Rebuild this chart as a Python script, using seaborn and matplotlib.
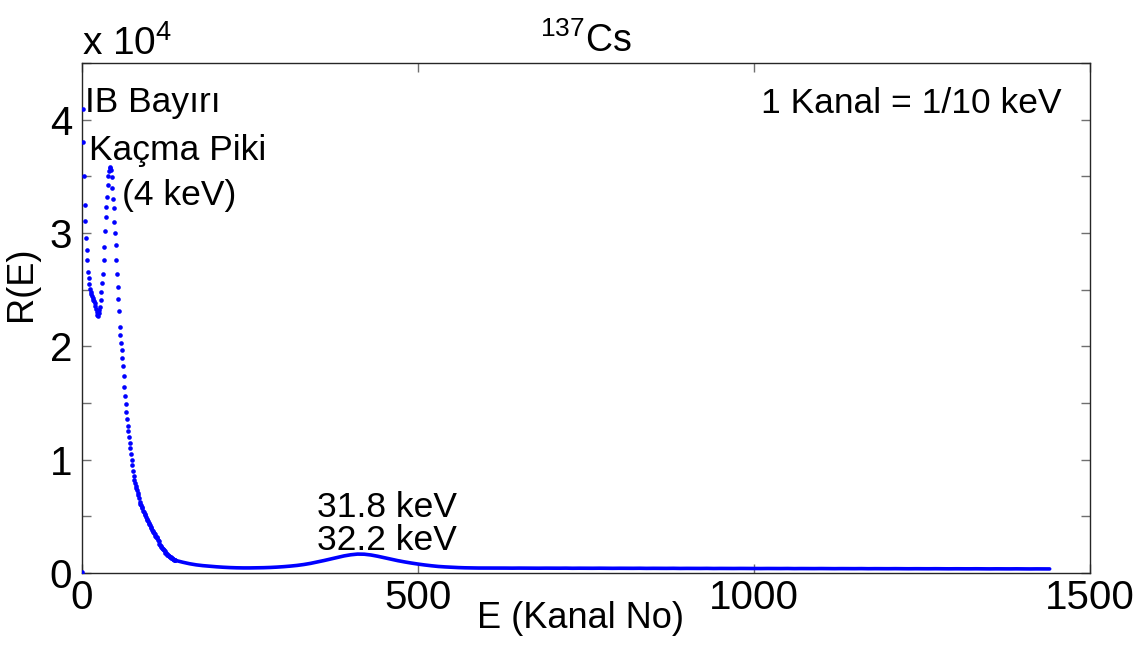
import matplotlib
matplotlib.use("Agg")
import matplotlib.pyplot as plt
import seaborn as sns
from matplotlib.ticker import FixedLocator, FuncFormatter

# ---------------- data ----------------
# channels 0..139 read one by one (R in counts)
early_channels = list(range(0, 140))
early_R = [
    100, 40900, 38000, 35000, 32500, 31100, 29600, 28500, 27600, 26600,
    26000, 25500, 25100, 24800, 24600, 24400, 24300, 24100, 24000, 23800,
    23600, 23300, 23000, 22800, 22700, 22900, 23200, 23500, 24100, 24800,
    25600, 26400, 27600, 28800, 30200, 31400, 32300, 33200, 34200, 35000,
    35500, 35700, 35800, 35600, 34900, 34000, 33000, 32200, 31000, 30000,
    28900, 27600, 26400, 25200, 24200, 23100, 21700, 21000, 20300, 19700,
    19000, 18300, 17400, 16400, 15600, 14900, 14200, 13600, 13000, 12500,
    12000, 11500, 11000, 10500, 10000, 9500, 9000, 8600, 8200, 7900,
    7700, 7500, 7300, 7100, 6900, 6600, 6300, 6100, 6000, 5800,
    5700, 5500, 5400, 5200, 5100, 4900, 4800, 4700, 4600, 4400,
    4300, 4200, 4100, 4000, 3800, 3700, 3600, 3500, 3400, 3300,
    3200, 3200, 3100, 2900, 2800, 2600, 2500, 2400, 2300, 2200,
    2100, 2100, 2000, 1900, 1800, 1800, 1700, 1600, 1600, 1500,
    1500, 1450, 1400, 1350, 1300, 1260, 1220, 1190, 1160, 1130,
]
# channels 140..1440 read every 10 channels
tail_channels = list(range(140, 1441, 10))
tail_R = [
    1100, 950, 820, 720, 650, 600, 550, 510, 480, 460,
    450, 450, 460, 470, 490, 520, 560, 610, 670, 750,
    850, 970, 1100, 1240, 1380, 1510, 1610, 1670, 1660, 1590,
    1480, 1350, 1220, 1090, 980, 880, 790, 710, 640, 580,
    540, 510, 480, 460, 450,
    440, 440, 435, 440, 435, 430, 435, 430, 430, 425,
    430, 425, 425, 430, 420, 425, 420, 420, 425, 420,
    415, 420, 415, 415, 420, 410, 415, 410, 410, 415,
    405, 410, 405, 405, 410, 400, 405, 400, 400, 405,
    400, 400, 395, 400, 395, 395, 400, 390, 395, 390,
    390, 395, 390, 385, 390, 385, 385, 390, 380, 385,
    380, 380, 385, 380, 375, 380, 375, 375, 380, 375,
    370, 375, 370, 370, 375, 370, 365, 370, 365, 365,
    370, 365, 360, 365, 360, 360,
]
assert len(early_channels) == len(early_R)
assert len(tail_channels) == len(tail_R)

x_ticks = [0, 500, 1000, 1500]
y_ticks = [0, 10000, 20000, 30000, 40000]
y_minor = [5000, 15000, 25000, 35000, 45000]

title_text = r"$^{\mathrm{137}}$Cs"
x_label = "E (Kanal No)"
y_label = "R(E)"
multiplier_text = r"x 10$^{\mathrm{4}}$"
annotations = [
    ("IB Bayırı", 4.5, 40700, "left"),
    ("Kaçma Piki", 11, 36450, "left"),
    ("(4 keV)", 60, 32500, "left"),
    ("1 Kanal = 1/10 keV", 1458, 40600, "right"),
    ("31.8 keV", 349, 4970, "left"),
    ("32.2 keV", 349, 2030, "left"),
]

# ---------------- style ----------------
sns.set_theme(style="white")
plt.rcParams["font.family"] = ["Liberation Sans", "DejaVu Sans"]
plt.rcParams["mathtext.fontset"] = "custom"
plt.rcParams["mathtext.rm"] = "Liberation Sans"
plt.rcParams["mathtext.it"] = "Liberation Sans:italic"
plt.rcParams["mathtext.bf"] = "Liberation Sans:bold"

blue = "#0000FF"

fig = plt.figure(figsize=(11.47, 6.45), dpi=100)
fig.patch.set_facecolor("white")
ax = fig.add_axes([0.0715, 0.1116, 0.8788, 0.7907])
ax.set_facecolor("white")

sns.lineplot(x=tail_channels, y=tail_R, color=blue, linewidth=2.6,
             estimator=None, ax=ax, solid_capstyle="round")
sns.scatterplot(x=early_channels, y=early_R, color=blue, s=11,
                linewidth=0, marker="o", ax=ax, zorder=3)

ax.set_xlim(0, 1500)
ax.set_ylim(0, 45000)
ax.xaxis.set_major_locator(FixedLocator(x_ticks))
ax.yaxis.set_major_locator(FixedLocator(y_ticks))
ax.yaxis.set_minor_locator(FixedLocator(y_minor))
ax.yaxis.set_major_formatter(FuncFormatter(lambda v, p: f"{v / 1e4:g}"))

ax.tick_params(which="both", direction="in", length=6.5, width=1.0,
               color="#6f6f6f", top=True, right=True, bottom=True, left=True)
ax.tick_params(axis="x", which="both", labelsize=29, pad=4, labelcolor="black")
ax.tick_params(axis="y", which="both", labelsize=29, pad=7, labelcolor="black")

for s in ax.spines.values():
    s.set_visible(True)
    s.set_color("#262626")
    s.set_linewidth(1.0)

ax.set_xlabel(x_label, fontsize=26, color="black")
ax.xaxis.set_label_coords(0.495, -0.055)
ax.xaxis.label.set_verticalalignment("top")
ax.set_ylabel(y_label, fontsize=26, color="black")
ax.yaxis.set_label_coords(-0.043, 0.567)

ax.text(0.5, 1.0 + 11 / 510, title_text, transform=ax.transAxes,
        ha="center", va="baseline", fontsize=27, color="black")
ax.text(0.0, 1.0 + 8 / 510, multiplier_text, transform=ax.transAxes,
        ha="left", va="baseline", fontsize=28, color="black")

for txt, xv, yv, ha in annotations:
    ax.text(xv, yv, txt, ha=ha, va="baseline", fontsize=25.5, color="black")

fig.savefig("out.png", dpi=100, facecolor="white")
